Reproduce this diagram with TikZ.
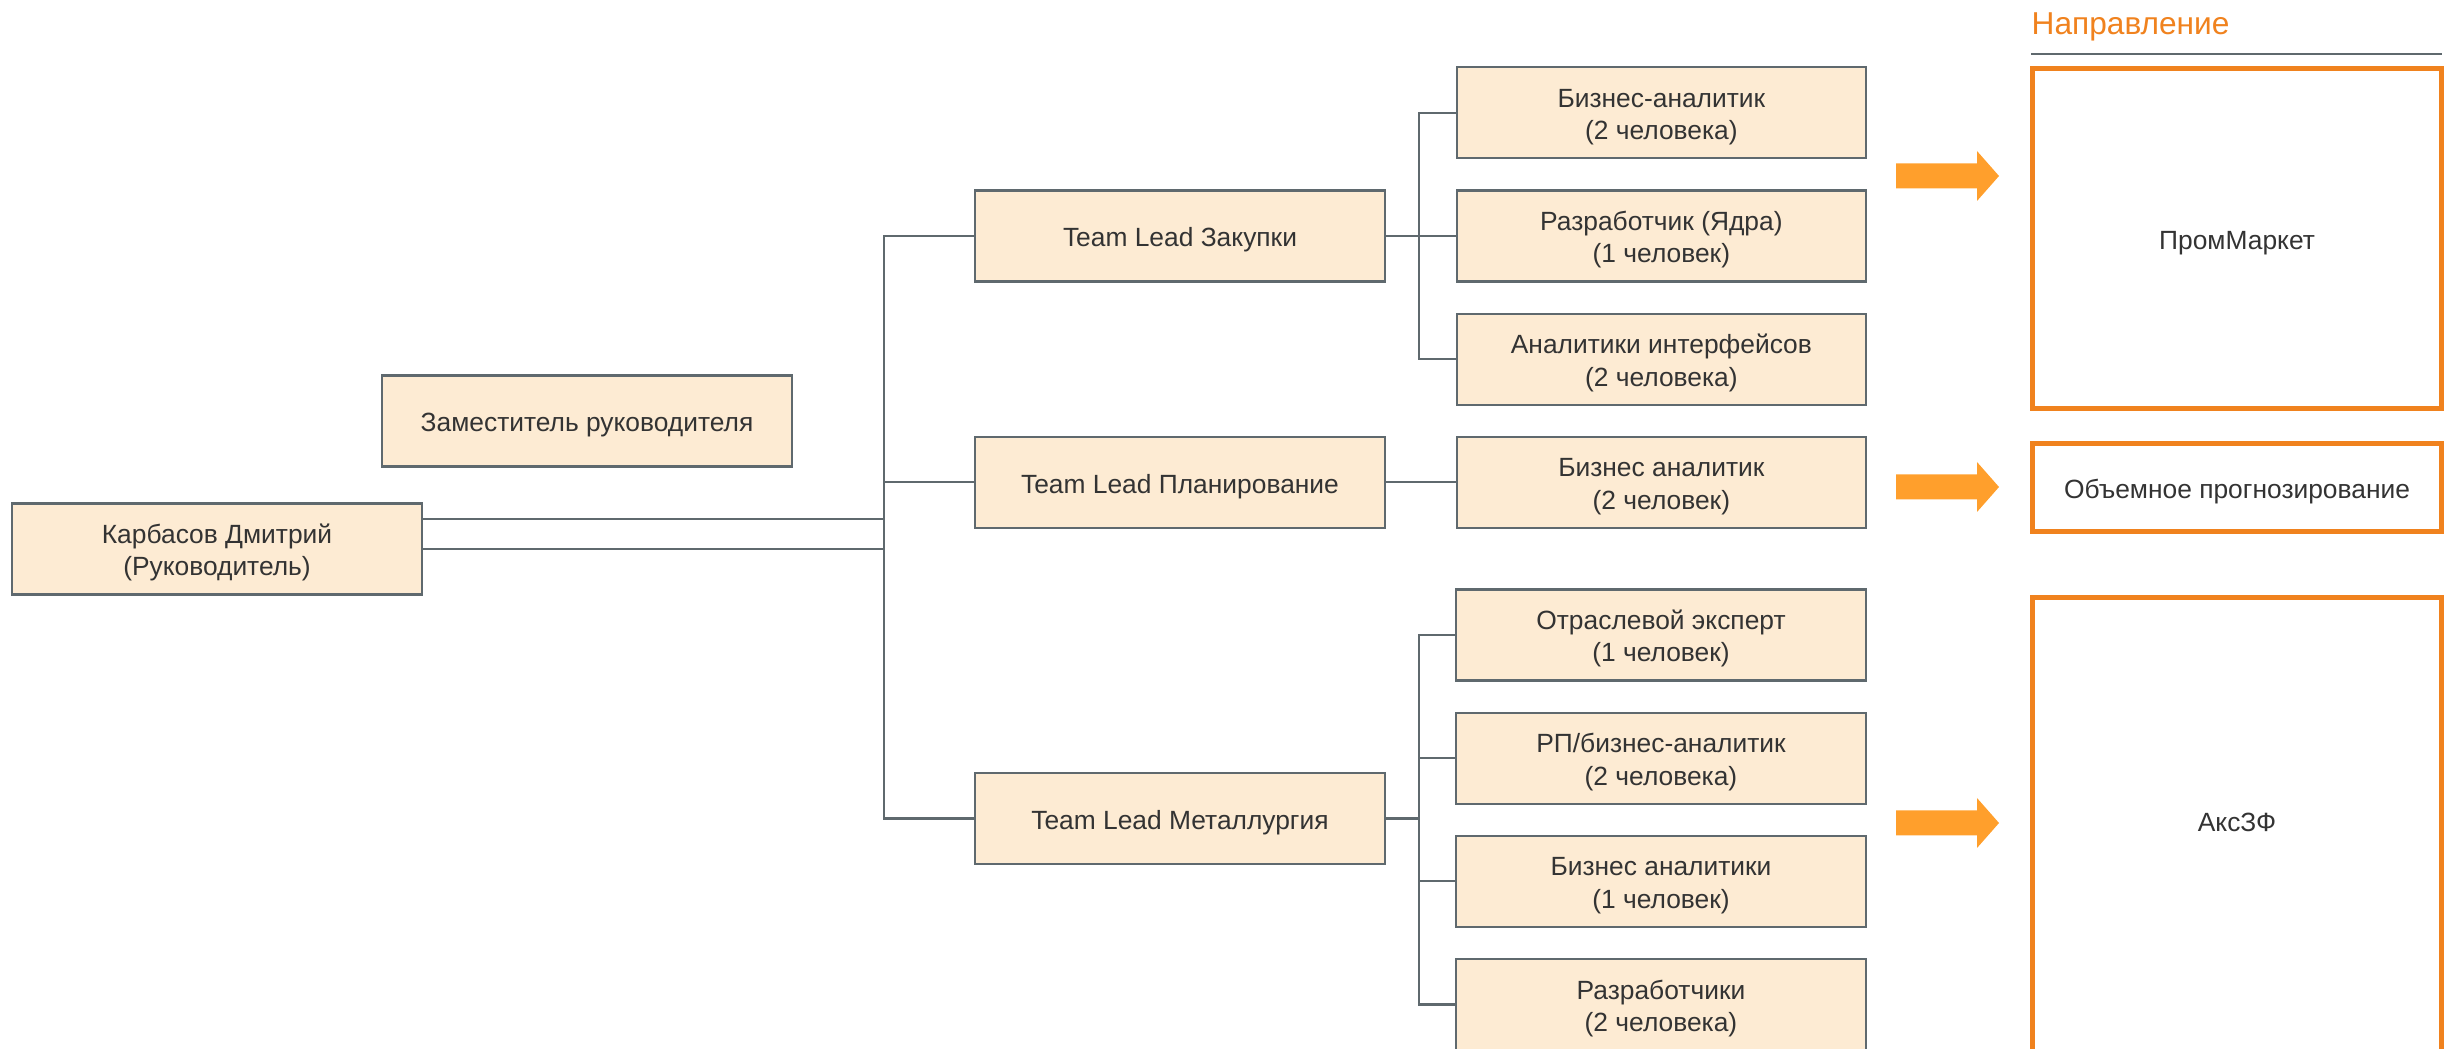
\documentclass[tikz,border=0pt]{standalone}
\usepackage{fontspec}
\setmainfont{Liberation Sans}
\usetikzlibrary{positioning}
\definecolor{pesok}{HTML}{FDEBD3}
\definecolor{rama}{HTML}{5F696E}
\definecolor{tekst}{HTML}{333333}
\definecolor{oranzh}{HTML}{F0821E}
\definecolor{strelka}{HTML}{FF9F2C}

\begin{document}
\begin{tikzpicture}[x=0.01cm,y=-0.01cm,node distance=0.30cm,font=\fontsize{7.5}{9.2}\selectfont]
        \tikzstyle{every node}=[align=center, text=tekst, inner sep=0pt, execute at begin node={\rule{0pt}{7.7pt}}]
        \tikzstyle{kadr}=[draw=rama, fill=pesok, line width=0.6pt, minimum width=4.09cm, minimum height=0.91cm]
        \tikzstyle{kadrdva}=[kadr, execute at begin node={\rule{0pt}{16.9pt}}]
        \tikzstyle{napr}=[draw=oranzh, line width=1.4pt, minimum width=4.09cm]
        \tikzstyle{svyaz}=[draw=rama, line width=0.6pt]
        \useasboundingbox (0,0) rectangle (2450,1049);
        \clip (0,0) rectangle (2450,1049);
        \node[kadrdva] (karbasov) at (217,549) {Карбасов Дмитрий\\ (Руководитель)};
        \node[kadr] (zamestitel) at (587,421) {Заместитель руководителя};
        \node[kadr] (zakupki) at (1180,236) {Team Lead Закупки};
        \node[kadr, below=1.53cm of zakupki] (planirovanie) {Team Lead Планирование};
        \node[kadr] (metall) at (1180,818.5) {Team Lead Металлургия};
        % закупки
        \node[kadrdva, right=0.70cm of zakupki] (yadro) {Разработчик (Ядра)\\ (1 человек)};
        \node[kadrdva, above=of yadro] (analitik) {Бизнес-аналитик\\ (2 человека)};
        \node[kadrdva, below=of yadro] (interfeis) {Аналитики интерфейсов\\ (2 человека)};
        % планирование
        \node[kadrdva, right=0.70cm of planirovanie] (biznes) {Бизнес аналитик\\ (2 человек)};
        % металлургия
        \node[kadrdva] (ekspert) at (1661,635) {Отраслевой эксперт\\ (1 человек)};
        \node[kadrdva, below=of ekspert] (rp) {РП/бизнес-аналитик\\ (2 человека)};
        \node[kadrdva, below=of rp] (analitiki) {Бизнес аналитики\\ (1 человек)};
        \node[kadrdva, below=of analitiki] (razrabotchiki) {Разработчики\\ (2 человека)};
        % направления
        \node[anchor=base west, text=oranzh, font=\fontsize{9}{11}\selectfont] (zagolovok) at (2031,35) {Направление};
        \path[svyaz] (2031,54) -- (2442,54);
        \node[napr, minimum height=3.40cm] (prommarket) at (2237,238.5) {ПромМаркет};
        \node[napr, minimum height=0.88cm] (obiem) at (2237,487.5) {Объемное прогнозирование};
        \node[napr, minimum height=4.55cm, execute at begin node={\rule[-4.2pt]{0pt}{11.9pt}}] (akszf) at (2237,825) {АксЗФ};
        % связи
        \coordinate (shina) at (884,0);
        \coordinate (shina2) at (1419,0);
        \coordinate (k1) at ([yshift=3mm]karbasov.east);
        \path[svyaz] (k1) -- (shina |- k1);
        \path[svyaz] (karbasov.east) -- (shina |- karbasov.east);
        \path[svyaz] (zakupki.west) -| (shina |- metall.west) -- (metall.west);
        \path[svyaz] (planirovanie.west) -- (shina |- planirovanie.west);
        \path[svyaz] (zakupki.east) -- (yadro.west);
        \path[svyaz] (analitik.west) -| (shina2 |- interfeis.west) -- (interfeis.west);
        \path[svyaz] (planirovanie.east) -- (biznes.west);
        \path[svyaz] (metall.east) -- (shina2 |- metall.east);
        \path[svyaz] (ekspert.west) -| (shina2 |- razrabotchiki.west) -- (razrabotchiki.west);
        \path[svyaz] (rp.west) -- (shina2 |- rp.west);
        \path[svyaz] (analitiki.west) -- (shina2 |- analitiki.west);
        % стрелки
        \foreach \y in {176,487,823}
            \fill[strelka] (1896,\y-12.5) -- (1977,\y-12.5) -- (1977,\y-25) -- (1999,\y) -- (1977,\y+25) -- (1977,\y+12.5) -- (1896,\y+12.5) -- cycle;
      \end{tikzpicture}
\end{document}
